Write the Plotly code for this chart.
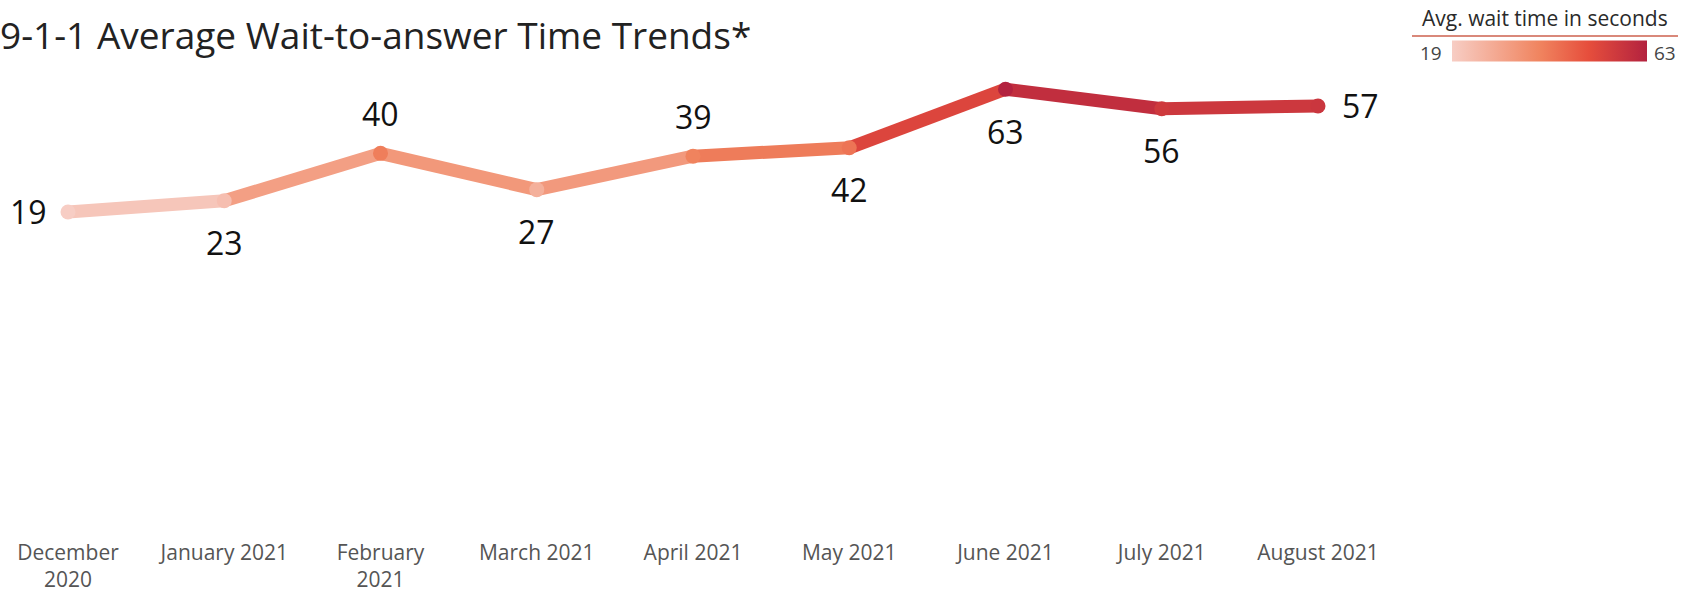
import plotly.graph_objects as go
from plotly.colors import sample_colorscale

months = ["December<br>2020", "January 2021", "February<br>2021", "March 2021", "April 2021",
          "May 2021", "June 2021", "July 2021", "August 2021"]
wait_seconds = [19, 23, 40, 27, 39, 42, 63, 56, 57]
label_positions = ["left", "below", "above", "below", "above", "below", "below", "below", "right"]

W, H = 1694, 597
L, R, T, B = 10, 1380, 80, 530
colorscale = [[0.0, "#f7cdc4"], [0.45, "#f0845f"], [0.7, "#e64e3c"], [1.0, "#b3223f"]]
vmin, vmax = min(wait_seconds), max(wait_seconds)


def col(v):
    return sample_colorscale(colorscale, [(v - vmin) / (vmax - vmin)])[0]


def px_x(p):
    return (p - L) / (R - L)


def px_y(p):
    return (B - p) / (B - T)


xs = list(range(len(months)))
fig = go.Figure()

for i in range(len(xs) - 1):
    fig.add_trace(go.Scatter(
        x=[xs[i], xs[i + 1]], y=[wait_seconds[i], wait_seconds[i + 1]],
        mode="lines", line=dict(color=col((wait_seconds[i] + wait_seconds[i + 1]) / 2), width=13),
        hoverinfo="skip", showlegend=False))

fig.add_trace(go.Scatter(
    x=xs, y=wait_seconds, mode="markers",
    marker=dict(size=15, color=wait_seconds, colorscale=colorscale, cmin=vmin, cmax=vmax,
                showscale=True,
                colorbar=dict(orientation="h",
                              x=px_x(1550), xanchor="center", y=px_y(51), yanchor="middle",
                              len=195, lenmode="pixels", thickness=21, outlinewidth=0,
                              xpad=0, ypad=0,
                              showticklabels=False, ticks="")),
    showlegend=False))

shift = {"left": (-40, 0), "right": (42, 0), "above": (0, 40), "below": (0, -42)}
for x, v, pos in zip(xs, wait_seconds, label_positions):
    dx, dy = shift[pos]
    fig.add_annotation(x=x, y=v, text=str(v), showarrow=False, xshift=dx, yshift=dy,
                       font=dict(size=32, color="#111111", family="Open Sans"))

fig.add_annotation(xref="paper", yref="paper", x=px_x(1545), y=px_y(18), text="Avg. wait time in seconds",
                   showarrow=False, font=dict(size=21, color="#2a2a2a", family="Open Sans"),
                   xanchor="center", yanchor="middle")
fig.add_annotation(xref="paper", yref="paper", x=px_x(1444), y=px_y(53), text=str(vmin),
                   showarrow=False, font=dict(size=19, color="#444444", family="Open Sans"),
                   xanchor="right", yanchor="middle")
fig.add_annotation(xref="paper", yref="paper", x=px_x(1652), y=px_y(53), text=str(vmax),
                   showarrow=False, font=dict(size=19, color="#444444", family="Open Sans"),
                   xanchor="left", yanchor="middle")
fig.add_shape(type="line", xref="paper", yref="paper", x0=px_x(1412), x1=px_x(1678),
              y0=px_y(36), y1=px_y(36), line=dict(color="#d9887a", width=2))

fig.update_layout(
    width=W, height=H,
    margin=dict(l=L, r=W - R, t=T, b=H - B, autoexpand=False),
    paper_bgcolor="white", plot_bgcolor="white",
    title=dict(text="9-1-1 Average Wait-to-answer Time Trends*", x=0, xref="container", xanchor="left",
               y=1 - 36 / H, yref="container", yanchor="middle",
               font=dict(size=37, color="#222222", family="Open Sans")),
    xaxis=dict(range=[-(68 - L) / 156.25, 8 + (R - 1318) / 156.25], tickvals=xs, ticktext=months,
               showgrid=False, zeroline=False, showline=False, ticks="", ticklabelstandoff=8,
               tickfont=dict(size=21, color="#555555", family="Open Sans")),
    yaxis=dict(range=[-95, 66.3], visible=False, showgrid=False, zeroline=False),
)

fig.write_html("out.html", config={"displayModeBar": False},
               post_script="document.body.style.margin='0';")
